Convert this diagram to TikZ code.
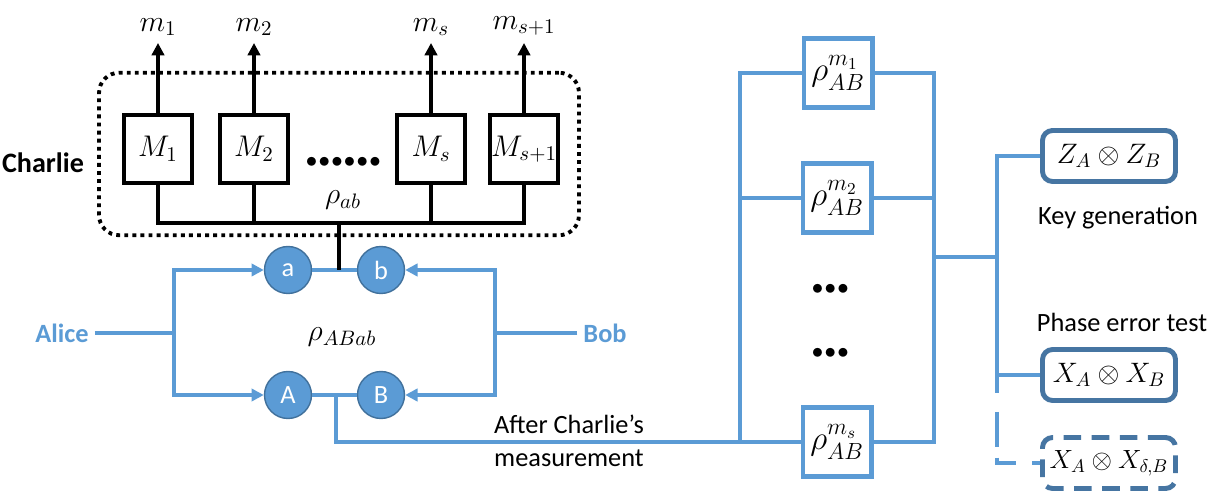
\RequirePackage{fix-cm}
\documentclass[tikz,border=0pt]{standalone}
\usepackage{fontspec}
\setmainfont{Carlito}
\usepackage{amsmath}
\usetikzlibrary{arrows.meta}

\definecolor{lineblue}{RGB}{91,155,213}
\definecolor{ringblue}{RGB}{65,113,156}
\definecolor{boxblue}{RGB}{70,117,162}

\newcommand{\dotrow}[1]{$\foreach \k in {1,...,#1}{\mathord{\bullet}\mkern1mu}$}

\begin{document}
\begin{tikzpicture}[x=0.02cm, y=-0.02cm, font=\fontsize{15}{18.7}\selectfont]
        % Define styles
        \tikzset{
            frame/.style={rectangle, draw, line width=2.2pt, dash pattern=on 2.2pt off 2.4pt, rounded corners=0.4cm, minimum width=9.6cm, minimum height=3.25cm},
            meas/.style={rectangle, draw, line width=2.3pt, minimum width=1.36cm, minimum height=1.36cm, inner sep=0pt, font=\fontsize{17}{19}\selectfont},
            outcome/.style={anchor=south, inner sep=4pt, font=\fontsize{17}{19}\selectfont},
            qubit/.style={circle, draw=ringblue, line width=0.8pt, fill=lineblue, minimum size=0.94cm, inner sep=0pt, text=white, font=\fontsize{15}{16}\selectfont},
            party/.style={font=\fontsize{15}{16}\selectfont\bfseries, text=lineblue},
            rho/.style={rectangle, draw=lineblue, line width=2.3pt, minimum size=1.38cm, inner sep=0pt, font=\fontsize{19}{21}\selectfont},
            basis/.style={rectangle, draw=boxblue, line width=2.8pt, rounded corners=0.2cm, minimum width=2.66cm, minimum height=1.02cm, font=\fontsize{16}{18}\selectfont},
            dotsnode/.style={font=\fontsize{13}{13}\selectfont},
            kline/.style={line width=2.3pt},
            bline/.style={draw=lineblue, line width=2.2pt},
            arrow/.style={-{Triangle[length=7pt,width=7pt]}}
        }
        \useasboundingbox (0,0) rectangle (1212,492);

        % Charlie
        \node[frame] (charlie_box) at (339,154) {};
        \node[font=\fontsize{16}{18}\selectfont\bfseries] (charlie) at (43,163) {Charlie};
        \node[meas] (meas_1) at (158,149) {$M_1$};
        \node[meas] (meas_2) at (254,149) {$M_2$};
        \node[meas] (meas_s) at (431,149) {$M_s$};
        \node[meas] (meas_s1) at (524,149) {$M_{s+1}$};
        \node[outcome] (out_1) at (158,43) {$m_1$};
        \node[outcome] (out_2) at (254,43) {$m_2$};
        \node[outcome] (out_s) at (431,43) {$m_s$};
        \node[outcome] (out_s1) at (524,43) {$m_{s+1}$};
        \node[dotsnode] (dots_m) at (344,162) {\dotrow{6}};
        \node[font=\fontsize{17}{19}\selectfont] (rho_ab) at (343,200) {$\rho_{ab}$};
        \coordinate (bus_mid) at (339,223);

        % Qubits
        \node[qubit] (top_a) at (288,270) {a};
        \node[qubit] (top_b) at (381,270) {b};
        \node[qubit] (bot_A) at (288,395) {A};
        \node[qubit] (bot_B) at (381,395) {B};
        \node[font=\fontsize{17}{19}\selectfont] (rho_abab) at (342,337) {$\rho_{ABab}$};
        \node[party] (alice) at (62,333) {Alice};
        \node[party] (bob) at (605,333) {Bob};
        \coordinate (alice_split) at (174,333);
        \coordinate (bob_split) at (495,333);
        \coordinate (ab_tap) at (336,395);
        \node[anchor=west, align=left] (after_text) at (488,441) {After Charlie's\\measurement};

        % States after measurement
        \node[rho] (rho_1) at (838,73) {$\rho^{m_1}_{AB}$};
        \node[rho] (rho_2) at (837,198) {$\rho^{m_2}_{AB}$};
        \node[rho] (rho_s) at (837,442) {$\rho^{m_s}_{AB}$};
        \node[dotsnode] (dots_1) at (831,289) {\dotrow{3}};
        \node[dotsnode] (dots_2) at (831,353) {\dotrow{3}};
        \coordinate (left_bus) at (740,442);
        \coordinate (right_bus) at (934,442);
        \coordinate (merge_tap) at (934,257);
        \coordinate (sel_end) at (997,393);
        \coordinate (sel_dash) at (997,412);

        % Bases
        \node[basis] (key_z) at (1109,156) {$Z_A \otimes Z_B$};
        \node[basis] (key_x) at (1109,375) {$X_A \otimes X_B$};
        \node[basis, dash pattern=on 10pt off 6pt, font=\fontsize{15}{17}\selectfont] (key_xd) at (1109,463) {$X_A \otimes X_{\delta,B}$};
        \node (key_gen) at (1118,218) {Key generation};
        \node (phase_test) at (1122,322) {Phase error test};

        % Arrows
        \draw[kline, arrow] (meas_1) -- (out_1);
        \draw[kline, arrow] (meas_2) -- (out_2);
        \draw[kline, arrow] (meas_s) -- (out_s);
        \draw[kline, arrow] (meas_s1) -- (out_s1);
        \draw[kline] (meas_1) |- (bus_mid) -| (meas_s1);
        \draw[kline] (meas_2) -- (meas_2 |- bus_mid);
        \draw[kline] (meas_s) -- (meas_s |- bus_mid);
        \draw[bline] (top_a) -- (top_b);
        \draw[bline] (bot_A) -- (bot_B);
        \draw[kline] (bus_mid) -- (bus_mid |- top_a);
        \draw[bline] (alice) -- (alice_split);
        \draw[bline, arrow] (alice_split) |- (top_a);
        \draw[bline, arrow] (alice_split) |- (bot_A);
        \draw[bline] (bob) -- (bob_split);
        \draw[bline, arrow] (bob_split) |- (top_b);
        \draw[bline, arrow] (bob_split) |- (bot_B);
        \draw[bline] (ab_tap) |- (rho_s);
        \draw[bline] (rho_1) -| (left_bus);
        \draw[bline] (rho_2) -- (rho_2 -| left_bus);
        \draw[bline] (rho_1) -| (right_bus) -- (rho_s);
        \draw[bline] (rho_2) -- (rho_2 -| right_bus);
        \draw[bline] (merge_tap) -- (merge_tap -| sel_end);
        \draw[bline] (key_z) -| (sel_end);
        \draw[bline] (key_x) -- (key_x -| sel_end);
        \draw[bline, dash pattern=on 20pt off 6pt on 14pt off 9pt] (sel_dash) |- (key_xd);
\end{tikzpicture}
\end{document}
